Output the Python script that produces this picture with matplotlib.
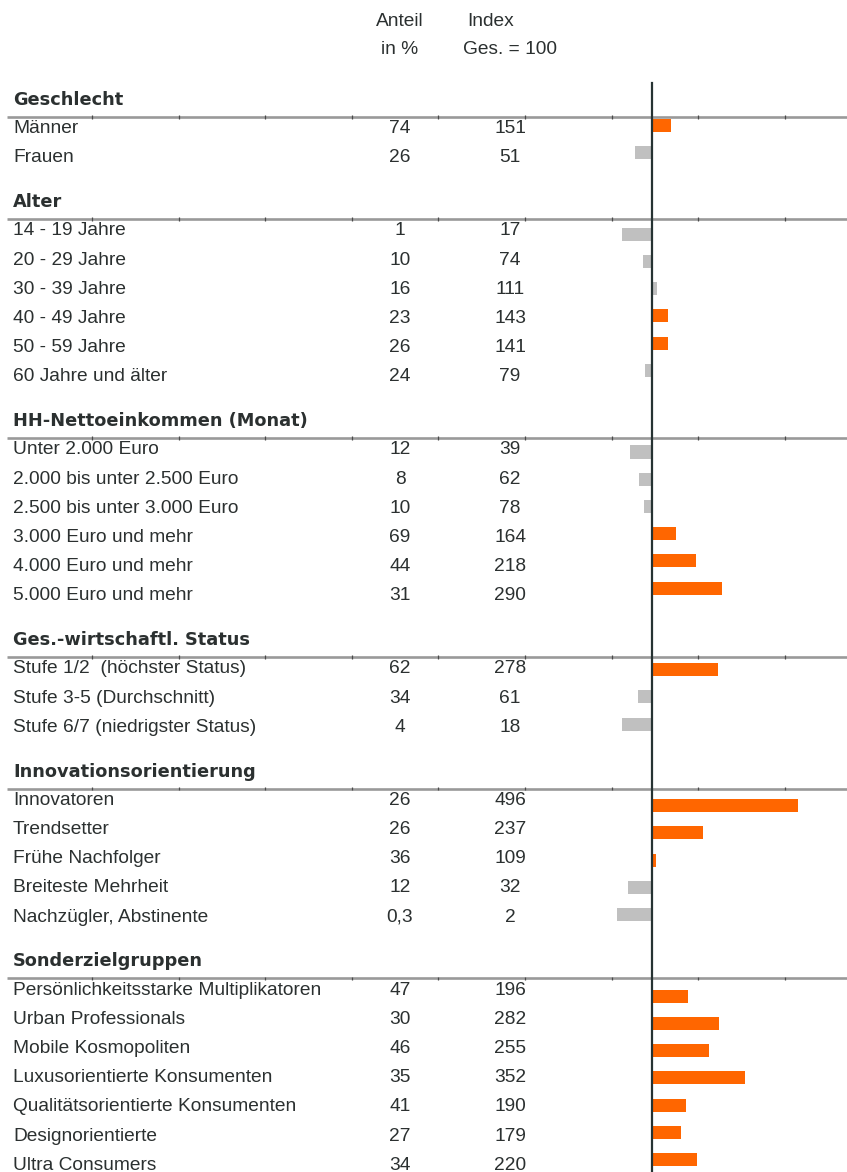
import matplotlib
matplotlib.use("Agg")
import matplotlib.pyplot as plt

# ---------------- data ----------------
section_titles = ["Geschlecht", "Alter", "HH-Nettoeinkommen (Monat)",
                  "Ges.-wirtschaftl. Status", "Innovationsorientierung",
                  "Sonderzielgruppen"]
section_sizes = [2, 6, 6, 3, 5, 7]
row_labels = ["Männer", "Frauen",
              "14 - 19 Jahre", "20 - 29 Jahre", "30 - 39 Jahre", "40 - 49 Jahre",
              "50 - 59 Jahre", "60 Jahre und älter",
              "Unter 2.000 Euro", "2.000 bis unter 2.500 Euro",
              "2.500 bis unter 3.000 Euro", "3.000 Euro und mehr",
              "4.000 Euro und mehr", "5.000 Euro und mehr",
              "Stufe 1/2  (höchster Status)", "Stufe 3-5 (Durchschnitt)",
              "Stufe 6/7 (niedrigster Status)",
              "Innovatoren", "Trendsetter", "Frühe Nachfolger",
              "Breiteste Mehrheit", "Nachzügler, Abstinente",
              "Persönlichkeitsstarke Multiplikatoren", "Urban Professionals",
              "Mobile Kosmopoliten", "Luxusorientierte Konsumenten",
              "Qualitätsorientierte Konsumenten", "Designorientierte",
              "Ultra Consumers"]
anteil = [74, 26,
          1, 10, 16, 23, 26, 24,
          12, 8, 10, 69, 44, 31,
          62, 34, 4,
          26, 26, 36, 12, 0.3,
          47, 30, 46, 35, 41, 27, 34]
index_vals = [151, 51,
              17, 74, 111, 143, 141, 79,
              39, 62, 78, 164, 218, 290,
              278, 61, 18,
              496, 237, 109, 32, 2,
              196, 282, 255, 352, 190, 179, 220]
# bar colour group as drawn in the original (o = orange, g = grey)
bar_group = ["o", "g",
             "g", "g", "g", "o", "o", "g",
             "g", "g", "g", "o", "o", "o",
             "o", "g", "g",
             "o", "o", "o", "g", "g",
             "o", "o", "o", "o", "o", "o", "o"]
col_head_anteil = ["Anteil", "in %"]
col_head_index = ["Index", "Ges. = 100"]

ORANGE = "#ff6600"
GREY = "#c0c0c0"
TXT = "#2b3030"
LINE = "#263333"

def fmt(v):
    if float(v).is_integer():
        return str(int(v))
    return str(v).replace(".", ",")

# ---------------- figure ----------------
W, H = 847, 1172
fig = plt.figure(figsize=(W / 100, H / 100), dpi=100)
ax = fig.add_axes([0, 0, 1, 1])
ax.set_xlim(0, W)
ax.set_ylim(H, 0)
ax.axis("off")

reg = dict(family=["Liberation Sans", "DejaVu Sans"], size=13.8, color=TXT)
bold = dict(family=["DejaVu Sans"], size=12.8, weight="bold", color=TXT)

# column headers
ax.text(400, 22, col_head_anteil[0], ha="center", va="center", **reg)
ax.text(400, 49, col_head_anteil[1], ha="center", va="center", **reg)
ax.text(491, 22, col_head_index[0], ha="center", va="center", **reg)
ax.text(510, 49, col_head_index[1], ha="center", va="center", **reg)

# text rows
u = 29.2
y = 100.0
ri = 0
tick_x = [92 + 86.6 * k for k in range(9)]
for title, n in zip(section_titles, section_sizes):
    ax.text(13, y, title, ha="left", va="center", **bold)
    ly = y + 17
    ax.plot([7, W], [ly, ly], color="#999999", lw=1.9, solid_capstyle="butt", zorder=1)
    ax.vlines(tick_x, ly - 1.8, ly + 1.8, color="#4a4a4a", lw=0.9, zorder=2)
    for i in range(n):
        yy = y + u * (i + 1) - 0.5
        ax.text(13, yy, row_labels[ri], ha="left", va="center", **reg)
        ax.text(400, yy, fmt(anteil[ri]), ha="center", va="center", **reg)
        ax.text(510, yy, fmt(index_vals[ri]), ha="center", va="center", **reg)
        ri += 1
    y = y + u * n + 1.5 * u

# ---------------- bars ----------------
ax2 = fig.add_axes([0, 0, 1, 1], zorder=3)
ax2.patch.set_alpha(0)
ax2.axis("off")
ax2.set_xlim(-1677.9, 630)
ax2.set_ylim(38.46, -4.612)

bar_rows = []
k = 0
for n in section_sizes:
    for i in range(n):
        bar_rows.append(k)
        k += 1
    k += 2

colors = [ORANGE if g == "o" else GREY for g in bar_group]
ax2.barh(bar_rows, [v - 100 for v in index_vals], left=100, height=0.48,
         color=colors, edgecolor="none", zorder=2)
ax2.axvline(100, ymin=0, ymax=(H - 83) / H, color=LINE, lw=1.6, zorder=3)

fig.savefig("out.png", dpi=100, facecolor="white")
